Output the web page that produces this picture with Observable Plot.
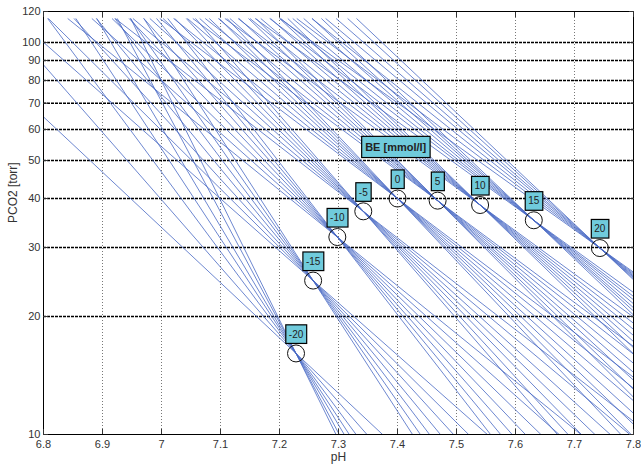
<!DOCTYPE html>
<html><head><meta charset="utf-8">
<script src="https://cdn.jsdelivr.net/npm/d3@7"></script>
<script src="https://cdn.jsdelivr.net/npm/@observablehq/plot@0.6"></script>
<style>
body{margin:0;background:#fff;}
#chart{width:641px;height:464px;}
</style></head><body><div id="chart"></div>
<script>
// Base excess levels (mmol/l) and where each fan of buffer lines converges
const beLevels = [-20, -15, -10, -5, 0, 5, 10, 15, 20];
const pivotPH = [7.228, 7.257, 7.298, 7.342, 7.400, 7.468, 7.540, 7.631, 7.743];
const pivotPCO2 = [16.1, 24.7, 31.9, 37.1, 40.0, 39.5, 38.5, 35.2, 29.9];
// slope of each buffer line (decrease of log10 PCO2 per pH unit), one list per fan
const fanSlopes = [
  [1.41, 1.72, 2.03, 2.29, 2.53, 2.82, 3.05],
  [1.33, 1.49, 1.65, 1.82, 1.99, 2.16, 2.33],
  [1.22, 1.34, 1.46, 1.58, 1.70, 1.82, 1.94],
  [1.17, 1.26, 1.36, 1.45, 1.54, 1.64, 1.73],
  [1.14, 1.21, 1.29, 1.37, 1.44, 1.52, 1.59],
  [1.12, 1.18, 1.25, 1.32, 1.38, 1.45, 1.51],
  [1.10, 1.16, 1.22, 1.28, 1.34, 1.40, 1.46],
  [1.09, 1.15, 1.20, 1.26, 1.32, 1.37, 1.43],
  [1.08, 1.14, 1.20, 1.26, 1.31, 1.37, 1.42]
];
const lineTopPCO2 = 115;
const lineBottomPCO2 = 10;
const xTicks = [6.8, 6.9, 7, 7.1, 7.2, 7.3, 7.4, 7.5, 7.6, 7.7, 7.8];
const yTicks = [10, 20, 30, 40, 50, 60, 70, 80, 90, 100, 120];
const yGrid = [20, 30, 40, 50, 60, 70, 80, 90, 100];
const titleLabel = {text: "BE [mmol/l]", pH: 7.397, pco2: 54};
const xLabel = "pH";
const yLabel = "PCO2 [torr]";

const rows = [];
beLevels.forEach((be, i) => {
  const p0 = pivotPH[i], c0 = pivotPCO2[i];
  fanSlopes[i].forEach((s, j) => {
    const id = i + "-" + j;
    rows.push({id, pH: p0 - Math.log10(lineTopPCO2 / c0) / s, pco2: lineTopPCO2});
    rows.push({id, pH: p0, pco2: c0});
    rows.push({id, pH: p0 + Math.log10(c0 / lineBottomPCO2) / s, pco2: lineBottomPCO2});
  });
});
const pivots = beLevels.map((be, i) => ({be, pH: pivotPH[i], pco2: pivotPCO2[i]}));

const fontFamily = "'Liberation Sans', Arial, Helvetica, sans-serif";
const chart = Plot.plot({
  width: 641, height: 464,
  marginLeft: 43, marginRight: 8, marginTop: 11, marginBottom: 30,
  style: {fontFamily, fontSize: "11px", color: "#333", background: "#fff"},
  x: {domain: [6.8, 7.8]},
  y: {type: "log", domain: [10, 120]},
  marks: [
    Plot.gridX(xTicks, {stroke: "#555", strokeOpacity: 1, strokeDasharray: "1,2", strokeWidth: 0.8}),
    Plot.gridY(yGrid, {stroke: "#000", strokeOpacity: 1, strokeDasharray: "3,1", strokeWidth: 1.5}),
    Plot.line(rows, {x: "pH", y: "pco2", z: "id", stroke: "#4768c4", strokeWidth: 0.8, clip: true}),
    Plot.dot(pivots, {x: "pH", y: "pco2", r: 8.5, stroke: "#111", fill: "none", strokeWidth: 1}),
    Plot.text(pivots, {x: "pH", y: "pco2", text: d => String(d.be), dy: -19, fill: "#222", fontSize: 10, className: "be-label"}),
    Plot.text([titleLabel], {x: "pH", y: "pco2", text: "text", fill: "#222", fontSize: 11, fontWeight: "bold", className: "be-title"}),
    Plot.frame({stroke: "#000", strokeWidth: 1}),
    Plot.axisX(xTicks, {anchor: "bottom", tickSize: -5, tickPadding: 11, tickFormat: d => String(d), fill: "#333", fontSize: 11, label: null}),
    Plot.axisX(xTicks, {anchor: "top", tickSize: -5, tickFormat: () => "", label: null}),
    Plot.axisY(yTicks, {anchor: "left", tickSize: -5, tickPadding: 8, tickFormat: d => String(d), fill: "#333", fontSize: 11, label: null}),
    Plot.axisY(yTicks, {anchor: "right", tickSize: -5, tickFormat: () => "", label: null}),
    Plot.text([xLabel], {frameAnchor: "bottom", dy: 26, text: d => d, fill: "#333", fontSize: 12}),
    Plot.text([yLabel], {frameAnchor: "left", dx: -30, rotate: -90, text: d => d, fill: "#333", fontSize: 12})
  ]
});
document.getElementById("chart").appendChild(chart);

function boxes(cls, padX, padY, minW) {
  d3.select(chart).selectAll("g." + cls + " text").each(function() {
    const b = this.getBBox();
    const w = Math.max(b.width + 2 * padX, minW);
    const cx = b.x + b.width / 2;
    d3.select(this.parentNode).insert("rect", () => this)
      .attr("transform", this.getAttribute("transform"))
      .attr("x", cx - w / 2).attr("y", b.y - padY)
      .attr("width", w).attr("height", b.height + 2 * padY)
      .attr("fill", "#70cbdc").attr("stroke", "#000").attr("stroke-width", 1.2);
  });
}
boxes("be-label", 3, 3.8, 13);
boxes("be-title", 3.5, 4.6, 0);
</script></body></html>
